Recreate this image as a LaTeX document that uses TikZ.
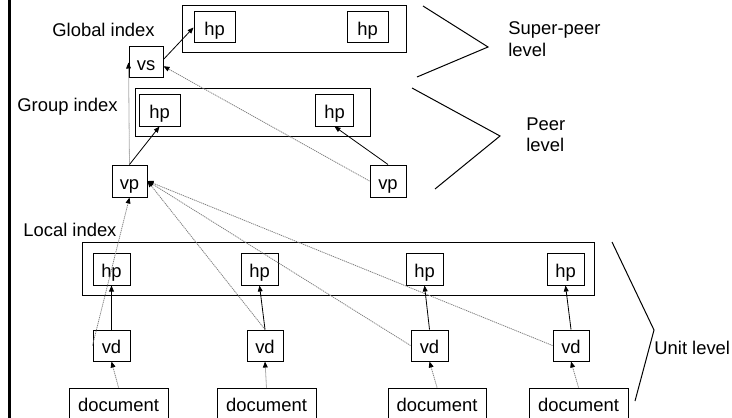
\documentclass[tikz,border=0pt]{standalone}
\usepackage{fontspec}
\setmainfont{Liberation Sans}
\usetikzlibrary{arrows.meta}
\begin{document}
\begin{tikzpicture}[x=0.5pt,y=-0.5pt,
  font=\fontsize{9.2pt}{11pt}\selectfont,
  sz/.style 2 args={minimum width=#1*0.5pt, minimum height=#2*0.5pt},
  box/.style={draw, line width=0.5pt, inner sep=0pt, text height=0.82em, text depth=0pt},
  frame/.style={draw, line width=0.5pt, inner sep=0pt},
  lbl/.style={anchor=base west, inner sep=0pt},
  tip/.tip={Triangle[length=3pt,width=2.4pt,color=black]},
  solidlink/.style={-tip, line width=0.4pt, black},
  dotlink/.style={-tip, line width=0.4pt, draw=black!50, dash pattern=on 0.6pt off 0.4pt},
  bracket/.style={line width=0.5pt}
]
\useasboundingbox (0,0) rectangle (732,417);
\begin{scope}
\clip (0,0) rectangle (732,417);

% left margin rule
\draw[line width=1.3pt] (9.5,-5) -- (9.5,425);

% ---------- super-peer level ----------
\node[frame, sz={224}{47}] (gbox) at (294,29.5) {};
\node[box, sz={41}{31}] (ghp1) at (214.5,27.5) {hp};
\node[box, sz={41}{31}] (ghp2) at (367.5,27.5) {hp};
\node[box, sz={34}{31}] (vs) at (146,62.5) {vs};
\node[lbl] (gtxt) at (52,37) {Global index};

% ---------- peer level ----------
\node[frame, sz={235}{47}] (grbox) at (252.5,112.5) {};
\node[box, sz={41}{31}] (grhp1) at (159.5,110.5) {hp};
\node[box, sz={38}{31}] (grhp2) at (334.5,110.5) {hp};
\node[lbl] (grtxt) at (17,112) {Group index};
\node[box, sz={35}{32}] (vp1) at (129.5,181) {vp};
\node[box, sz={36}{32}] (vp2) at (388,181) {vp};

% ---------- unit level ----------
\node[lbl] (ltxt) at (23,236) {Local index};
\node[frame, sz={512}{53}] (lbox) at (338,268.5) {};
\node[box, sz={37}{32}] (lhp1) at (111.5,269) {hp};
\node[box, sz={37}{32}] (lhp2) at (259.5,269) {hp};
\node[box, sz={37}{32}] (lhp3) at (424.5,269) {hp};
\node[box, sz={37}{32}] (lhp4) at (565.5,269) {hp};

\node[box, sz={37}{31}] (vd1) at (111.5,345.5) {vd};
\node[box, sz={36}{31}] (vd2) at (265,345.5) {vd};
\node[box, sz={37}{31}] (vd3) at (429.5,345.5) {vd};
\node[box, sz={36}{31}] (vd4) at (571,345.5) {vd};

\node[box, sz={99}{30}] (doc1) at (118.5,403) {document};
\node[box, sz={99}{30}] (doc2) at (266.5,403) {document};
\node[box, sz={98}{30}] (doc3) at (437,403) {document};
\node[box, sz={99}{30}] (doc4) at (578.5,403) {document};

% ---------- level brackets and captions ----------
\draw[bracket] (423,6) -- (488,47) -- (417,77);
\node[lbl] (sptxt) at (508,35) {Super-peer};
\node[lbl] (sptxt2) at (508,57) {level};
\draw[bracket] (412,88) -- (500,136) -- (435,189);
\node[lbl] (ptxt) at (526,130) {Peer};
\node[lbl] (ptxt2) at (526,151) {level};
\draw[bracket] (612,242) -- (654,330) -- (635,401);
\node[lbl] (utxt) at (654,354) {Unit level};

% ---------- connectors ----------
\draw[solidlink] (vs.10) -- (ghp1.west);
\draw[dotlink] (vp2.west) -- (vs.-12);
\draw[dotlink] (vp1.north) -- (vs.west);
\draw[solidlink] (vp1.north) -- (grhp1.south);
\draw[solidlink] (vp2.north) -- (grhp2.south);

\draw[dotlink] (vd1.west) -- (vp1.south);
\draw[dotlink] (vd2.north) -- (vp1.east);
\draw[dotlink] (vd3.west) -- (vp1.east);
\draw[dotlink] (vd4.west) -- (vp1.east);

\foreach \i in {1,2,3,4} {
  \draw[solidlink] (vd\i.north) -- (lhp\i.south);
  \draw[dotlink] (doc\i.north) -- (vd\i.south);
}
\end{scope}
\end{tikzpicture}
\end{document}
